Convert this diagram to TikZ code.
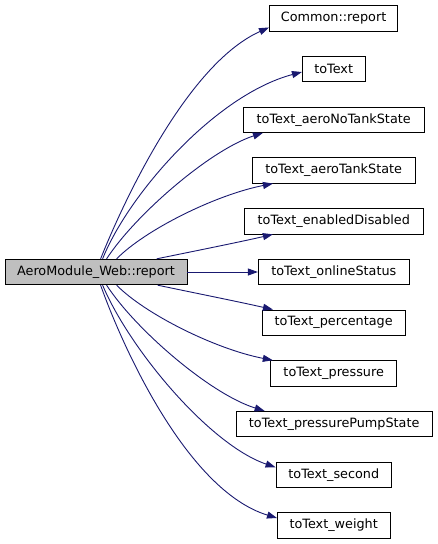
\documentclass[tikz,border=0pt]{standalone}
\usepackage{fontspec}
\setmainfont{DejaVu Sans}
\usetikzlibrary{arrows.meta}
\definecolor{edgeblue}{HTML}{191970}
\definecolor{mainfill}{HTML}{BFBFBF}
\begin{document}
\begin{tikzpicture}[x=1pt,y=-1pt,
  fnbox/.style={draw=black,line width=0.8pt,fill=white,minimum height=25.5pt,inner sep=0pt,
    font=\fontsize{12.8}{15}\selectfont},
  mainbox/.style={fnbox,fill=mainfill},
  call/.style={draw=edgeblue,line width=0.9pt,-{Triangle[length=10pt,width=7pt]},color=edgeblue}]
\useasboundingbox (0,0) rectangle (437,544);
\node[mainbox,minimum width=182pt] (main) at (96,272) {AeroModule\_Web::report};
\node[fnbox,minimum width=128.4pt] (common) at (333.6,18.3) {Common::report};
\node[fnbox,minimum width=62.7pt] (totext) at (333.7,69.0) {toText};
\node[fnbox,minimum width=180.7pt] (noTank) at (333.7,119.7) {toText\_aeroNoTankState};
\node[fnbox,minimum width=162.7pt] (tank) at (333.7,170.4) {toText\_aeroTankState};
\node[fnbox,minimum width=179pt] (enabled) at (333.8,221.2) {toText\_enabledDisabled};
\node[fnbox,minimum width=151pt] (online) at (333.8,272) {toText\_onlineStatus};
\node[fnbox,minimum width=142.7pt] (percent) at (333.7,322.7) {toText\_percentage};
\node[fnbox,minimum width=126pt] (pressure) at (333.7,373.4) {toText\_pressure};
\node[fnbox,minimum width=196.3pt] (pump) at (334.2,424.1) {toText\_pressurePumpState};
\node[fnbox,minimum width=115.7pt] (second) at (333.8,474.8) {toText\_second};
\node[fnbox,minimum width=112.7pt] (weight) at (333.7,525.5) {toText\_weight};
% upper edges
\draw[call] ([xshift=96pt]main.north west) .. controls (120,210) and (185,65) .. ([yshift=4pt]common.south west);
\draw[call] ([xshift=98pt]main.north west) .. controls (128,195) and (215,95) .. ([yshift=-3pt]totext.west);
\draw[call] ([xshift=102pt]main.north west) .. controls (135,215) and (210,150) .. ([xshift=20pt]noTank.south west);
\draw[call] ([xshift=112pt]main.north west) .. controls (145,230) and (215,195) .. ([xshift=21pt]tank.south west);
\draw[call] ([xshift=152pt]main.north west) .. controls (190,252) and (240,242) .. ([xshift=29pt]enabled.south west);
% middle
\draw[call] (main.east) -- (online.west);
% lower edges
\draw[call] ([xshift=153pt]main.south west) .. controls (190,292) and (240,302) .. ([xshift=11pt]percent.north west);
\draw[call] ([xshift=112pt]main.south west) .. controls (145,314) and (215,349) .. ([xshift=2.5pt]pressure.north west);
\draw[call] ([xshift=102pt]main.south west) .. controls (135,329) and (210,394) .. ([xshift=29pt]pump.north west);
\draw[call] ([xshift=98pt]main.south west) .. controls (130,350) and (210,445) .. ([yshift=7.5pt]second.west);
\draw[call] ([xshift=96pt]main.south west) .. controls (120,340) and (185,490) .. ([yshift=7.5pt]weight.west);
\end{tikzpicture}
\end{document}
